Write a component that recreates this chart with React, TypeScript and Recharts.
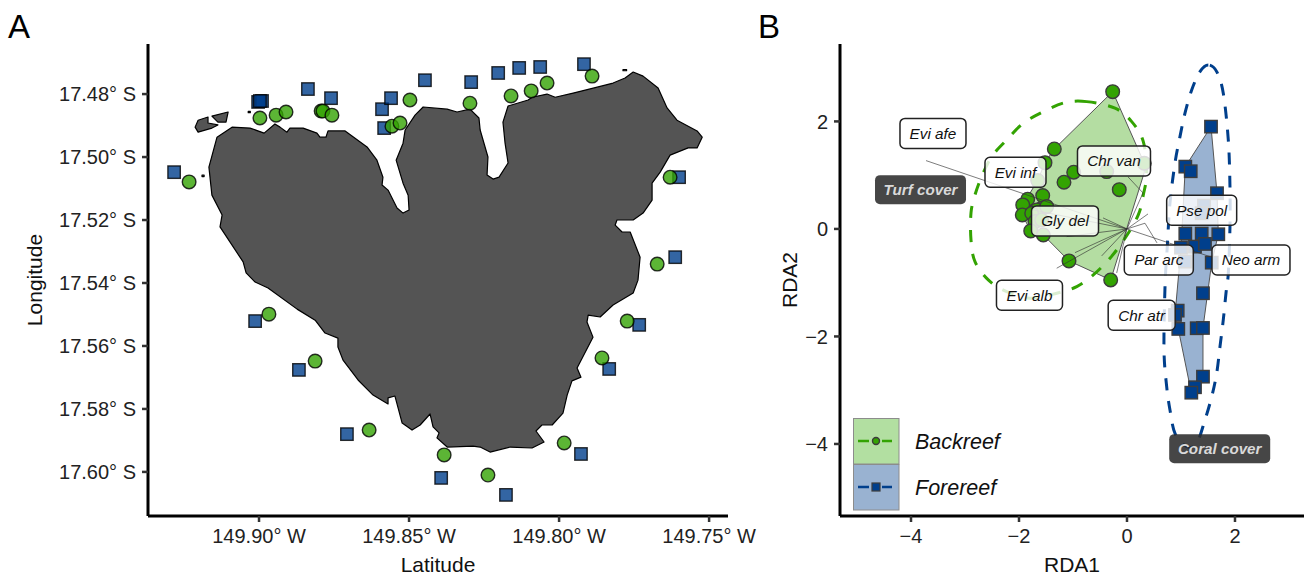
import React from "react";
import { ScatterChart, Scatter, XAxis, YAxis, Legend } from "recharts";

// ---------- Panel A: map, [longitude W, latitude S] ----------
const islandMain = [
  [149.914,17.4937],[149.909,17.4905],[149.903,17.4908],[149.8983,17.4924],[149.8947,17.4895],[149.893,17.4905],[149.8907,17.4921],[149.8897,17.4908],[149.8853,17.4908],[149.8807,17.4924],
  [149.8797,17.4937],[149.8777,17.4937],[149.877,17.4917],[149.8713,17.4917],[149.864,17.4968],[149.8607,17.501],[149.8587,17.5064],[149.859,17.5089],[149.857,17.5105],[149.854,17.5162],
  [149.852,17.5178],[149.85,17.5168],[149.8503,17.5121],[149.852,17.5083],[149.8543,17.501],[149.852,17.4956],[149.8513,17.4914],[149.848,17.4867],[149.8453,17.4841],[149.8373,17.4848],
  [149.834,17.4857],[149.8297,17.4848],[149.8267,17.4876],[149.8263,17.4914],[149.8237,17.5],[149.824,17.5057],[149.822,17.507],[149.82,17.5064],[149.817,17.5019],[149.818,17.4956],
  [149.8187,17.4889],[149.817,17.4838],[149.8103,17.4819],[149.809,17.481],[149.804,17.48],[149.8013,17.481],[149.7953,17.4797],[149.7873,17.4778],[149.782,17.4765],[149.778,17.4749],
  [149.7753,17.473],[149.772,17.4743],[149.767,17.4781],[149.764,17.4844],[149.7607,17.4883],[149.754,17.4917],[149.7523,17.4937],[149.754,17.4971],[149.757,17.4971],[149.763,17.4994],
  [149.7663,17.5048],[149.769,17.5083],[149.769,17.5137],[149.772,17.5178],[149.7753,17.52],[149.7807,17.52],[149.7813,17.5216],[149.779,17.5238],[149.7763,17.5238],[149.773,17.5318],
  [149.7737,17.5391],[149.7753,17.5432],[149.782,17.547],[149.7863,17.5508],[149.7903,17.5502],[149.7907,17.5524],[149.7887,17.5572],[149.794,17.567],[149.7927,17.5699],[149.7957,17.5711],
  [149.7973,17.5756],[149.7987,17.5813],[149.8023,17.5851],[149.8057,17.5851],[149.8077,17.587],[149.805,17.5905],[149.809,17.5924],[149.8163,17.5921],[149.823,17.5937],[149.8263,17.5921],
  [149.8287,17.5918],[149.8373,17.5921],[149.8407,17.5892],[149.84,17.5876],[149.842,17.5857],[149.843,17.5816],[149.8463,17.5851],[149.849,17.5867],[149.8523,17.5845],[149.8547,17.5759],
  [149.857,17.5765],[149.857,17.5784],[149.862,17.5756],[149.867,17.5708],[149.872,17.5645],[149.8737,17.5603],[149.8737,17.5575],[149.878,17.5559],[149.8813,17.5518],[149.8873,17.5483],
  [149.897,17.5416],[149.9013,17.5397],[149.9043,17.5368],[149.9053,17.5333],[149.913,17.5222],[149.9123,17.5184],[149.9157,17.5121],[149.9167,17.5032],
];
const isletWest = [[149.9213,17.4905],[149.9203,17.4883],[149.917,17.4873],[149.917,17.4892],[149.9137,17.4898],[149.9157,17.4908],[149.9203,17.4921]];
const isletNorth = [[149.9157,17.487],[149.9103,17.4857],[149.911,17.4889],[149.9137,17.4889]];
const isletDot1 = [[149.919,17.5057],[149.9183,17.5057],[149.9183,17.5062],[149.919,17.5062]];
const isletDot2 = [[149.7787,17.4722],[149.7775,17.4722],[149.7775,17.4726],[149.7787,17.4726]];
const isletDot3 = [[149.9036,17.4855],[149.9029,17.4855],[149.9029,17.4859],[149.9036,17.4859]];

const mapForereef = [
  [149.9283,17.5048],[149.9003,17.4825],[149.899,17.4822],[149.8997,17.4822],[149.8837,17.4784],[149.876,17.4813],[149.8583,17.4908],[149.859,17.4848],[149.856,17.4813],[149.8447,17.4756],
  [149.8293,17.4762],[149.8203,17.4733],[149.8133,17.4717],[149.8063,17.4714],[149.7917,17.4705],[149.76,17.5064],[149.7613,17.5318],[149.9013,17.5521],[149.8867,17.5676],[149.8707,17.588],
  [149.8393,17.6019],[149.7733,17.5533],[149.7833,17.5673],[149.7927,17.5943],[149.8177,17.6073],
];
const mapBackreef = [
  [149.9233,17.5079],[149.8997,17.4876],[149.8943,17.4867],[149.891,17.4857],[149.8793,17.4854],[149.8787,17.4854],[149.8757,17.4867],[149.8557,17.4902],[149.853,17.4892],[149.8497,17.4819],
  [149.8297,17.4829],[149.816,17.4806],[149.8093,17.479],[149.804,17.4765],[149.789,17.4743],[149.763,17.5064],[149.7673,17.534],[149.8967,17.5499],[149.8813,17.5648],[149.8633,17.5867],
  [149.8383,17.5946],[149.8237,17.601],[149.7773,17.5521],[149.7857,17.5638],[149.7983,17.5908],
];
const lonTicks = [149.9, 149.85, 149.8, 149.75];
const latTicks = [17.48, 17.5, 17.52, 17.54, 17.56, 17.58, 17.6];

// ---------- Panel B: ordination, [RDA1, RDA2] ----------
const rdaBackreef = [
  [-0.265,2.554],[-1.346,1.488],[-1.519,1.233],[-0.987,1.055],[-1.167,0.869],[-0.376,1.066],[0.32,1.222],[-1.654,0.899],[-0.143,0.731],[-1.561,0.62],[-1.839,0.553],[-1.931,0.447],
  [-1.939,0.26],[-1.58,0.385],[-1.672,0.353],[-1.487,0.415],[-1.765,0.292],[-1.704,0.136],[-1.783,-0.037],[-1.55,-0.112],[-1.58,0.167],[-1.074,-0.595],[-0.302,-0.949],
];
const rdaForereef = [
  [1.556,1.903],[1.08,1.159],[1.18,1.073],[1.667,0.664],[1.426,0.433],[1.383,0.292],[1.08,-0.087],[1.383,-0.087],[1.691,-0.099],[1.259,-0.329],[1.444,-0.279],[1.0,-0.348],
  [1.074,-0.608],[1.569,-0.627],[1.407,-1.196],[0.939,-1.52],[0.889,-1.6],[0.95,-1.86],[1.291,-1.847],[1.407,-1.842],[1.407,-2.748],[1.259,-2.945],[1.191,-3.046],
];
const hullBackreef = [[-0.265,2.554],[0.32,1.222],[0.32,1.05],[-0.302,-0.949],[-1.074,-0.595],[-1.55,-0.112],[-1.783,-0.037],[-1.939,0.26],[-1.931,0.447],[-1.654,0.899],[-1.519,1.233],[-1.346,1.488]];
const hullForereef = [[1.556,1.903],[1.667,0.664],[1.691,-0.099],[1.569,-0.627],[1.407,-1.842],[1.407,-2.748],[1.191,-3.046],[0.95,-1.86],[0.889,-1.6],[1.0,-0.348],[1.08,1.159]];
const ellipseBackreef = [
  [-0.746,2.368],[-1.148,2.35],[-1.55,2.182],[-1.92,1.967],[-2.228,1.656],[-2.506,1.345],[-2.691,0.973],[-2.815,0.633],[-2.889,0.298],[-2.889,-0.205],[-2.815,-0.608],[-2.569,-0.949],
  [-2.228,-1.167],[-1.796,-1.289],[-1.302,-1.196],[-0.931,-1.073],[-0.624,-0.856],[-0.315,-0.545],[-0.037,-0.173],[0.209,0.26],[0.302,0.633],[0.365,1.036],[0.302,1.624],[0.087,1.996],[-0.222,2.246],
];
const ellipseForereef = [
  [1.506,3.051],[1.352,2.927],[1.198,2.586],[1.074,2.153],[0.981,1.717],[0.889,1.228],[0.796,0.484],[0.746,-0.329],[0.704,-1.073],[0.685,-2.251],[0.735,-2.934],[0.796,-3.367],[0.889,-3.801],[1.106,-4.05],
  [1.291,-3.987],[1.444,-3.553],[1.569,-3.12],[1.661,-2.685],[1.722,-2.19],[1.783,-1.693],[1.833,-1.196],[1.876,-0.824],[1.907,0.043],[1.907,0.787],[1.876,1.656],[1.783,2.525],[1.661,2.927],
];
const vectorEnds = [
  [-3.722,1.271],[-1.741,0.353],[-0.444,0.205],[-1.117,-0.143],[-1.302,-0.731],[-0.963,-0.441],[-0.469,-0.502],[-0.191,-0.819],[0.296,0.67],[0.389,0.279],[0.333,0.106],[1.537,-0.515],
];
const connectors = [
  [[0.296,0.67],[0.019,0.968]],
  [[0.333,0.106],[0.556,-0.26]],
];
const speciesNames = ["Evi afe","Evi inf","Chr van","Gly del","Par arc","Neo arm","Pse pol","Chr atr","Evi alb"];
const speciesPos = [[-3.593,1.777],[-2.065,1.055],[-0.241,1.265],[-1.148,0.149],[0.589,-0.577],[2.296,-0.577],[1.383,0.348],[0.272,-1.606],[-1.806,-1.234]];
const coverNames = ["Turf cover","Coral cover"];
const coverPos = [[-3.824,0.731],[1.717,-4.087]];
const rda1Ticks = [-4,-2,0,2];
const rda2Ticks = [-4,-2,0,2];
const legendNames = ["Backreef","Forereef"];

// ---------- styles ----------
const FONT = "'Liberation Sans', Arial, sans-serif";
const GREEN = "#33a302";
const BLUE = "#003f8c";
const boxWidth: Record<string, number> = {
  "Evi afe":66,"Evi inf":61,"Chr van":73,"Gly del":67,"Par arc":69,"Neo arm":78,"Pse pol":70,"Chr atr":67,"Evi alb":66,"Turf cover":91,"Coral cover":101,
};

const toXY = (a: number[][]) => a.map(([x, y]) => ({ x, y }));
const noShape = () => null;
const minusSign = (v: number) => String(v).replace("-", "\u2212");

const polygon = (fill: string, stroke: string, strokeWidth: number, fillOpacity = 1) => (p: any) => (
  <path
    d={"M" + p.points.map((q: any) => `${q.x},${q.y}`).join("L") + "Z"}
    fill={fill}
    fillOpacity={fillOpacity}
    stroke={stroke}
    strokeWidth={strokeWidth}
    strokeLinejoin="round"
  />
);

const polyline = (stroke: string, strokeWidth: number, opacity: number) => (p: any) => (
  <path d={"M" + p.points.map((q: any) => `${q.x},${q.y}`).join("L")} fill="none" stroke={stroke} strokeWidth={strokeWidth} strokeOpacity={opacity} />
);

const smoothClosed = (stroke: string, dash: string) => (p: any) => {
  const pts = p.points;
  const n = pts.length;
  let d = `M${pts[0].x},${pts[0].y}`;
  for (let i = 0; i < n; i++) {
    const a = pts[(i - 1 + n) % n], b = pts[i], c = pts[(i + 1) % n], e = pts[(i + 2) % n];
    d += `C${b.x + (c.x - a.x) / 6},${b.y + (c.y - a.y) / 6} ${c.x - (e.x - b.x) / 6},${c.y - (e.y - b.y) / 6} ${c.x},${c.y}`;
  }
  return <path d={d} fill="none" stroke={stroke} strokeWidth={3} strokeDasharray={dash} />;
};

const mapCircle = (p: any) => (
  <circle cx={p.cx} cy={p.cy} r={6.8} fill={GREEN} fillOpacity={0.8} stroke="#000" strokeOpacity={0.8} strokeWidth={1.4} />
);
const mapSquare = (p: any) => (
  <rect x={p.cx - 6.2} y={p.cy - 6.2} width={12.4} height={12.4} fill={BLUE} fillOpacity={0.8} stroke="#000" strokeOpacity={0.8} strokeWidth={1.4} />
);
const rdaCircle = (p: any) => (
  <circle cx={p.cx} cy={p.cy} r={6.8} fill={GREEN} stroke="#3c3c3c" strokeWidth={1.4} />
);
const rdaSquare = (p: any) => (
  <rect x={p.cx - 6.2} y={p.cy - 6.2} width={12.4} height={12.4} fill={BLUE} stroke="#3c3c3c" strokeWidth={1.4} />
);

const speciesLabel = (p: any) => {
  const name = p.payload.name;
  const w = boxWidth[name];
  return (
    <g>
      <rect x={p.cx - w / 2} y={p.cy - 15} width={w} height={30} rx={5} fill="#fff" fillOpacity={0.82} stroke="#222" strokeWidth={1.5} />
      <text x={p.cx} y={p.cy + 5.5} textAnchor="middle" fontFamily={FONT} fontStyle="italic" fontSize={15.3} fill="#111">{name}</text>
    </g>
  );
};
const coverLabel = (p: any) => {
  const name = p.payload.name;
  const w = boxWidth[name];
  return (
    <g>
      <rect x={p.cx - w / 2} y={p.cy - 14.5} width={w} height={29} rx={5} fill="#2c2c2c" fillOpacity={0.88} />
      <text x={p.cx} y={p.cy + 5.5} textAnchor="middle" fontFamily={FONT} fontStyle="italic" fontWeight="bold" fontSize={15.2} fill="#d9d9d9">{name}</text>
    </g>
  );
};

const LegendBox = () => (
  <svg width={150} height={92} style={{ display: "block", overflow: "visible" }}>
    {legendNames.map((name, i) => {
      const color = i === 0 ? GREEN : BLUE;
      const bg = i === 0 ? "#b2dfa1" : "#99b2d1";
      const top = i * 46;
      return (
        <g key={name}>
          <rect x={0.5} y={top + 0.5} width={45.5} height={45.5} fill={bg} stroke="#8c8c8c" strokeWidth={1} />
          <line x1={5} x2={39} y1={top + 23} y2={top + 23} stroke={color} strokeWidth={2.5} strokeDasharray="11 13 10" />
          {i === 0 ? (
            <circle cx={23} cy={top + 23} r={3.5} fill={color} stroke="#3c3c3c" strokeWidth={1.4} />
          ) : (
            <rect x={19} y={top + 19} width={8} height={8} fill={color} stroke="#3c3c3c" strokeWidth={1.2} />
          )}
          <text x={62} y={top + 30.5} fontFamily={FONT} fontStyle="italic" fontSize={21.5} fill="#111">{name}</text>
        </g>
      );
    })}
  </svg>
);

const tickStyle = { fontSize: 20, fill: "#222", fontFamily: FONT };
const axisLine = { stroke: "#000", strokeWidth: 3 };
const tickLine = { stroke: "#333", strokeWidth: 2.5 };
const titleStyle = { fontSize: 21, fill: "#111", fontFamily: FONT, textAnchor: "middle" as const };

const panelLetter = (left: number): React.CSSProperties => ({
  position: "absolute", left, top: 10, fontFamily: FONT, fontSize: 33, lineHeight: "34px", color: "#000",
});

export default function App() {
  return (
    <div style={{ position: "absolute", left: 0, top: 0, width: 1304, height: 575, background: "#fff", overflow: "hidden" }}>
      <div style={panelLetter(8)}>A</div>
      <div style={panelLetter(758)}>B</div>

      <div style={{ position: "absolute", left: 0, top: 0 }}>
        <ScatterChart width={760} height={575} margin={{ top: 44, left: 48, right: 32, bottom: 9 }}>
          <XAxis
            type="number" dataKey="x" reversed domain={[149.7437, 149.937]} ticks={lonTicks} interval={0}
            height={50} tickSize={6} tickMargin={7} tick={tickStyle} axisLine={axisLine} tickLine={tickLine}
            tickFormatter={(v: number) => `${v.toFixed(2)}° W`}
            label={{ value: "Latitude", position: "insideBottom", offset: -6, style: titleStyle }}
          />
          <YAxis
            type="number" dataKey="y" reversed domain={[17.4641, 17.614]} ticks={latTicks} interval={0}
            width={100} tickSize={6} tickMargin={6} tick={tickStyle} axisLine={axisLine} tickLine={tickLine}
            tickFormatter={(v: number) => `${v.toFixed(2)}° S`}
            label={{ value: "Longitude", angle: -90, position: "insideLeft", offset: -13, style: titleStyle }}
          />
          {[islandMain, isletWest, isletNorth, isletDot1, isletDot2, isletDot3].map((poly, i) => (
            <Scatter key={i} data={toXY(poly)} shape={noShape} line={polygon("#545454", "#000", 1.2)} isAnimationActive={false} />
          ))}
          <Scatter name="Forereef" data={toXY(mapForereef)} shape={mapSquare} isAnimationActive={false} />
          <Scatter name="Backreef" data={toXY(mapBackreef)} shape={mapCircle} isAnimationActive={false} />
        </ScatterChart>
      </div>

      <div style={{ position: "absolute", left: 760, top: 0 }}>
        <ScatterChart width={544} height={575} margin={{ top: 44, left: 10, right: 0, bottom: 9 }}>
          <XAxis
            type="number" dataKey="x" domain={[-5.315, 3.278]} ticks={rda1Ticks} interval={0}
            height={50} tickSize={6} tickMargin={7} tick={tickStyle} axisLine={axisLine} tickLine={tickLine}
            tickFormatter={minusSign}
            label={{ value: "RDA1", position: "insideBottom", offset: -6, style: titleStyle }}
          />
          <YAxis
            type="number" dataKey="y" domain={[-5.34, 3.44]} ticks={rda2Ticks} interval={0}
            width={70} tickSize={6} tickMargin={6} tick={tickStyle} axisLine={axisLine} tickLine={tickLine}
            tickFormatter={minusSign}
            label={{ value: "RDA2", angle: -90, position: "insideLeft", offset: 20, style: titleStyle }}
          />
          <Scatter data={toXY(hullBackreef)} shape={noShape} line={polygon(GREEN, "#555", 1, 0.37)} isAnimationActive={false} />
          <Scatter data={toXY(hullForereef)} shape={noShape} line={polygon(BLUE, "#555", 1, 0.4)} isAnimationActive={false} />
          <Scatter data={toXY(ellipseBackreef)} shape={noShape} line={smoothClosed(GREEN, "12 12")} isAnimationActive={false} />
          <Scatter data={toXY(ellipseForereef)} shape={noShape} line={smoothClosed(BLUE, "12 11")} isAnimationActive={false} />
          <Scatter name="Backreef" data={toXY(rdaBackreef)} shape={rdaCircle} isAnimationActive={false} />
          <Scatter name="Forereef" data={toXY(rdaForereef)} shape={rdaSquare} isAnimationActive={false} />
          {vectorEnds.map((e, i) => (
            <Scatter key={i} data={toXY([[0, 0], e])} shape={noShape} line={polyline("#333", 0.8, 0.8)} isAnimationActive={false} />
          ))}
          {connectors.map((c, i) => (
            <Scatter key={i} data={toXY(c)} shape={noShape} line={polyline("#333", 0.8, 0.8)} isAnimationActive={false} />
          ))}
          <Scatter data={speciesNames.map((name, i) => ({ name, x: speciesPos[i][0], y: speciesPos[i][1] }))} shape={speciesLabel} isAnimationActive={false} />
          <Scatter data={coverNames.map((name, i) => ({ name, x: coverPos[i][0], y: coverPos[i][1] }))} shape={coverLabel} isAnimationActive={false} />
          <Legend
            layout="vertical" align="center" verticalAlign="middle" content={<LegendBox />}
            wrapperStyle={{ left: 93, top: 418, width: 150, height: 92 }}
          />
        </ScatterChart>
      </div>
    </div>
  );
}
